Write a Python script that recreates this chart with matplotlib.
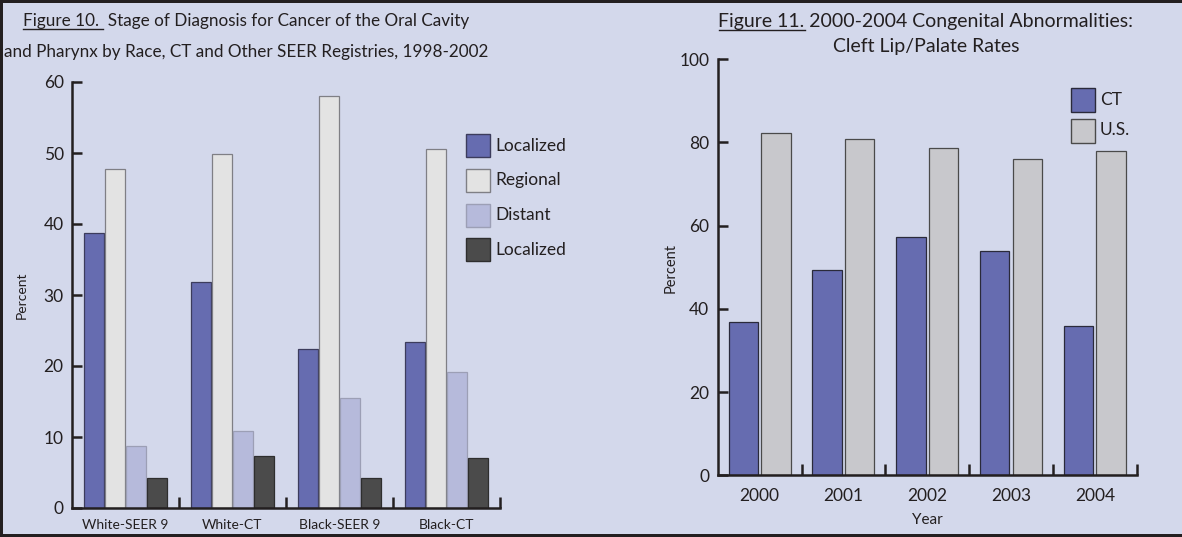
import matplotlib
matplotlib.use("Agg")
import matplotlib.pyplot as plt
from matplotlib.patches import Rectangle
from matplotlib.lines import Line2D
from matplotlib.transforms import IdentityTransform
import numpy as np

plt.rcParams['font.family'] = ['Lato', 'DejaVu Sans']

# ---------------- data ----------------
fig10_groups = ['White-SEER 9', 'White-CT', 'Black-SEER 9', 'Black-CT']
fig10_series = ['Localized', 'Regional', 'Distant', 'Localized']
fig10_localized = [38.7, 31.9, 22.4, 23.4]
fig10_regional = [47.8, 49.9, 58.0, 50.5]
fig10_distant = [8.7, 10.8, 15.5, 19.2]
fig10_localized2 = [4.2, 7.3, 4.2, 7.0]
fig10_yticks = [0, 10, 20, 30, 40, 50, 60]

fig11_years = ['2000', '2001', '2002', '2003', '2004']
fig11_series = ['CT', 'U.S.']
fig11_ct = [36.9, 49.4, 57.2, 53.8, 35.8]
fig11_us = [82.2, 80.7, 78.6, 76.0, 77.8]
fig11_yticks = [0, 20, 40, 60, 80, 100]

# ---------------- style ----------------
W, H = 1182, 537
BG = '#d3d8eb'
INK = '#231f20'
c10 = ['#666cb0', '#e3e3e3', '#b6badb', '#4b4b4b']
e10 = ['#3c3c5c', '#7f7f85', '#9c9fb5', '#2e2e2e']
c11 = ['#666cb0', '#c8c8cc']
e11 = ['#2a2a3a', '#4a4a4a']

fig = plt.figure(figsize=(W / 100, H / 100), dpi=100, facecolor=BG)

# border (top, left, bottom)
for (x0, y0, w, h) in [(0, H - 3, W, 3), (0, 0, 3, H), (0, 0, W, 3)]:
    fig.add_artist(Rectangle((x0 / W, y0 / H), w / W, h / H, transform=fig.transFigure,
                             facecolor=INK, edgecolor='none'))


def px_axes(x0, y0, x1, y1):
    return fig.add_axes([x0 / W, 1 - y1 / H, (x1 - x0) / W, (y1 - y0) / H])


def style_axes(ax, nsep):
    ax.set_facecolor('none')
    for s in ['top', 'right']:
        ax.spines[s].set_visible(False)
    for s in ['left', 'bottom']:
        ax.spines[s].set_color(INK)
        ax.spines[s].set_linewidth(1.8)
        ax.spines[s].set_capstyle('projecting')
    ax.set_xticks(np.arange(nsep) + 0.5, minor=True)
    ax.tick_params(axis='x', which='minor', direction='in', length=8, width=1.8, color=INK)
    ax.tick_params(axis='x', which='major', length=0)
    ax.tick_params(axis='y', which='major', direction='in', length=7.5, width=1.8,
                   color=INK, labelsize=12.5, labelcolor=INK, pad=6)


# ---------------- Figure 10 ----------------
ax1 = px_axes(72, 82, 500, 508)
x = np.arange(len(fig10_groups))
vals10 = [fig10_localized, fig10_regional, fig10_distant, fig10_localized2]
pitch, bw = 0.196, 0.18
for i, v in enumerate(vals10):
    ax1.bar(x + (i - 1.5) * pitch, v, width=bw, color=c10[i], edgecolor=e10[i],
            linewidth=0.9, zorder=2)
ax1.set_xlim(-0.5, len(fig10_groups) - 0.5)
ax1.set_ylim(0, 60)
style_axes(ax1, len(fig10_groups))
ax1.set_yticks(fig10_yticks)
ax1.set_xticks(x)
ax1.set_xticklabels(fig10_groups, fontsize=10, color=INK)
ax1.tick_params(axis='x', which='major', pad=8)
fig.text(22 / W, 1 - 295 / H, 'Percent', rotation=90, ha='center', va='center',
         fontsize=10, color=INK)

# legend 10
for i, name in enumerate(fig10_series):
    cy = 145.9 + i * 34.6
    fig.add_artist(Rectangle((466 / W, 1 - (cy + 11.5) / H), 24 / W, 23 / H,
                             transform=fig.transFigure, facecolor=c10[i],
                             edgecolor=e10[i], linewidth=1.0))
    fig.text(495 / W, 1 - cy / H, name, ha='left', va='center', fontsize=12.5, color=INK)

# ---------------- Figure 11 ----------------
ax2 = px_axes(717.7, 59.1, 1136.7, 475.3)
x2 = np.arange(len(fig11_years))
for i, v in enumerate([fig11_ct, fig11_us]):
    ax2.bar(x2 + (i - 0.5) * 0.388, v, width=0.35, color=c11[i], edgecolor=e11[i],
            linewidth=0.9, zorder=2)
ax2.set_xlim(-0.5, len(fig11_years) - 0.5)
ax2.set_ylim(0, 100)
style_axes(ax2, len(fig11_years))
ax2.set_yticks(fig11_yticks)
ax2.set_xticks(x2)
ax2.set_xticklabels(fig11_years, fontsize=12.5, color=INK)
ax2.tick_params(axis='x', which='major', pad=9)
fig.text(927 / W, 1 - 520 / H, 'Year', ha='center', va='center', fontsize=11, color=INK)
fig.text(671 / W, 1 - 268 / H, 'Percent', rotation=90, ha='center', va='center',
         fontsize=10.5, color=INK)

for i, name in enumerate(fig11_series):
    cy = 100 + i * 30.5
    fig.add_artist(Rectangle((1071 / W, 1 - (cy + 12) / H), 24 / W, 24 / H,
                             transform=fig.transFigure, facecolor=c11[i],
                             edgecolor=e11[i], linewidth=1.0))
    fig.text(1100 / W, 1 - cy / H, name, ha='left', va='center', fontsize=12.5, color=INK)

# ---------------- titles ----------------
fig.canvas.draw()
renderer = fig.canvas.get_renderer()


def title_line(cx, base_y, prefix, rest, size):
    t = fig.text(cx / W, 1 - base_y / H, prefix + rest, ha='center', va='baseline',
                 fontsize=size, color=INK)
    if prefix:
        bb = t.get_window_extent(renderer)
        tmp = fig.text(0, 0, prefix, fontsize=size)
        pw = tmp.get_window_extent(renderer).width
        tmp.remove()
        yb = H - base_y - 3
        fig.add_artist(Line2D([bb.x0, bb.x0 + pw], [yb, yb], transform=IdentityTransform(),
                              color=INK, linewidth=1.0))


title_line(246, 26, 'Figure 10. ', ' Stage of Diagnosis for Cancer of the Oral Cavity', 12.3)
title_line(246, 57, '', 'and Pharynx by Race, CT and Other SEER Registries, 1998-2002', 12.3)
title_line(926, 27, 'Figure 11.', ' 2000-2004 Congenital Abnormalities:', 14)
title_line(926, 52, '', 'Cleft Lip/Palate Rates', 14)

fig.savefig('out.png', dpi=100, facecolor=BG)
